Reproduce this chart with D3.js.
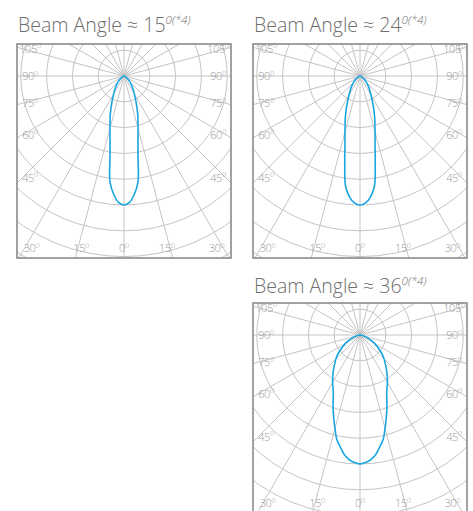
<!DOCTYPE html>
<html>
<head>
<meta charset="utf-8">
<script src="https://cdn.jsdelivr.net/npm/d3@7"></script>
<style>
  html, body { margin: 0; padding: 0; background: #fff; }
  svg { display: block; }
</style>
</head>
<body>
<svg id="chart" width="473" height="511"></svg>
<script>
// ---------- data ----------
const beamAngles = [15, 24, 36];
const titlePrefix = "Beam Angle \u2248 ";
const titleSup = "0(*4)";
// half-profile angles (degrees from the downward axis) and relative intensity
const profileAngles = [0, 2.5, 5, 7.5, 10, 12.5, 15, 20, 25, 30, 35, 40, 45, 50, 60, 70, 80, 90];
const profile15 = [1.0, 0.98, 0.92, 0.83, 0.625, 0.50, 0.42, 0.31, 0.22, 0.16, 0.12, 0.09, 0.065, 0.045, 0.02, 0.008, 0.002, 0];
const profile24 = [1.0, 0.985, 0.94, 0.86, 0.68, 0.54, 0.45, 0.33, 0.235, 0.17, 0.128, 0.097, 0.072, 0.052, 0.023, 0.009, 0.002, 0];
const profile36 = [1.0, 0.99, 0.97, 0.935, 0.88, 0.83, 0.75, 0.61, 0.49, 0.425, 0.365, 0.31, 0.265, 0.22, 0.13, 0.06, 0.02, 0];
const profiles = [profile15, profile24, profile36];
const ringValues = [0.2, 0.4, 0.6, 0.8, 1.0, 1.2, 1.4, 1.6, 1.8];
const spokeAngles = d3.range(0, 360, 15);
const sideLabels = [105, 90, 75, 60, 45];
const bottomLabels = [-30, -15, 0, 15, 30];

// ---------- layout ----------
const W = 473, H = 511;
const svg = d3.select("#chart");
const boxSize = 214;
const panels = [
  { left: 17, top: 44 },
  { left: 253, top: 44 },
  { left: 253, top: 303 }
];
const centerOffsetY = 32;
const rScale = d3.scaleLinear().domain([0, 1]).range([0, 129]);
const gridColor = "#c4c4c4";
const labelColor = "#9b9b9b";
const rad = d => d * Math.PI / 180;

panels.forEach((p, i) => {
  const g = svg.append("g");
  const cx = p.left + boxSize / 2;
  const cy = p.top + centerOffsetY;
  const right = p.left + boxSize;
  const bottom = p.top + boxSize;

  // title
  const t = g.append("text")
    .attr("x", p.left + 1)
    .attr("y", p.top - (i === 2 ? 10.5 : 12.5))
    .attr("font-family", "'Open Sans', 'Noto Sans', sans-serif")
    .attr("font-weight", 300)
    .attr("font-size", 19.5)
    .attr("fill", "#6e6e6e");
  t.append("tspan").text(titlePrefix + beamAngles[i]);
  t.append("tspan")
    .attr("font-size", 11.5)
    .attr("font-style", "italic")
    .attr("dy", -7.5)
    .text(titleSup);

  // clip
  const clipId = "clip" + i;
  svg.append("clipPath").attr("id", clipId)
    .append("rect").attr("x", p.left).attr("y", p.top)
    .attr("width", boxSize).attr("height", boxSize);

  const grid = g.append("g").attr("clip-path", `url(#${clipId})`);
  const inner = grid.append("g").attr("transform", `translate(${cx},${cy})`);

  inner.selectAll("circle.ring").data(ringValues).join("circle")
    .attr("class", "ring")
    .attr("r", d => rScale(d))
    .attr("fill", "none")
    .attr("stroke", gridColor)
    .attr("stroke-width", 1);

  inner.selectAll("line.spoke").data(spokeAngles).join("line")
    .attr("class", "spoke")
    .attr("x1", 0).attr("y1", 0)
    .attr("x2", d => 400 * Math.sin(rad(d)))
    .attr("y2", d => 400 * Math.cos(rad(d)))
    .attr("stroke", gridColor)
    .attr("stroke-width", 1);

  // labels
  const labelFont = "'Open Sans', 'Noto Sans', sans-serif";
  const halfW = boxSize / 2;
  function addLabel(x, y, val) {
    const tx = g.append("text")
      .attr("x", x).attr("y", y + 4)
      .attr("text-anchor", "middle")
      .attr("font-family", labelFont)
      .attr("font-weight", 300)
      .attr("font-size", 11)
      .attr("letter-spacing", -0.4)
      .attr("fill", labelColor);
    tx.append("tspan").text(Math.abs(val));
    tx.append("tspan").attr("font-size", 7.5).attr("dy", -4.5).text("0");
  }
  sideLabels.forEach(a => {
    const yy = cy + 0.95 * halfW / Math.tan(rad(a));
    addLabel(p.left + 13, yy, a);
    addLabel(right - 13, yy, a);
  });
  const bottomLabelY = Math.min(bottom - 10, H - 8);
  bottomLabels.forEach(a => {
    const xx = cx + 0.88 * (bottom - cy) * Math.tan(rad(a));
    addLabel(xx, bottomLabelY, a);
  });

  // beam curve
  const prof = profiles[i];
  const pts = [];
  for (let k = profileAngles.length - 1; k > 0; k--) pts.push([-profileAngles[k], prof[k]]);
  for (let k = 0; k < profileAngles.length; k++) pts.push([profileAngles[k], prof[k]]);
  const line = d3.lineRadial()
    .angle(d => Math.PI - rad(d[0]))
    .radius(d => rScale(d[1]))
    .curve(d3.curveCatmullRom.alpha(0.5));
  inner.append("path")
    .attr("d", line(pts))
    .attr("fill", "none")
    .attr("stroke", "#1aa6e0")
    .attr("stroke-width", 1.6);

  // border
  g.append("rect")
    .attr("x", p.left).attr("y", p.top)
    .attr("width", boxSize).attr("height", boxSize)
    .attr("fill", "none")
    .attr("stroke", "#8a8a8a")
    .attr("stroke-width", 1.6);
});
</script>
</body>
</html>
